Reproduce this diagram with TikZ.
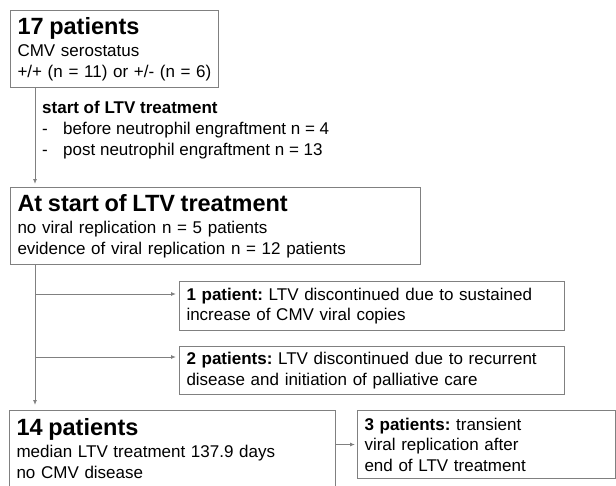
\documentclass[tikz,border=0pt]{standalone}
\usepackage{fontspec}
\setmainfont{Liberation Sans}
\usetikzlibrary{arrows.meta}

\newcommand{\ttl}{\fontsize{23.5}{24}\selectfont\bfseries}
\frenchspacing

\begin{document}
\begin{tikzpicture}[x=1pt, y=-1pt,
    box/.style={draw=gray, line width=1pt, anchor=north west, align=left,
        inner xsep=7pt, inner ysep=2pt, font=\fontsize{17}{20.5}\selectfont},
    arr/.style={draw=gray, line width=0.9pt, -{Latex[length=5pt,width=4pt]}}]
\useasboundingbox (0,0) rectangle (616,485);

% Boxes down the left
\node[box, text width=194pt, minimum height=77pt] (pat17) at (10,10) {
    {\ttl 17 patients}\\[1.5pt]
    CMV serostatus\\
    +/+ (n = 11) or +/- (n = 6)
};
\node[box, text width=396pt, minimum height=77pt] (atstart) at (10,187) {
    {\ttl At start of LTV treatment}\\[1.5pt]
    no viral replication n = 5 patients\\
    evidence of viral replication n = 12 patients
};
\node[box, text width=312pt, minimum height=76pt] (pat14) at (9,410) {
    {\ttl 14 patients}\\[1.5pt]
    median LTV treatment 137.9 days\\
    no CMV disease
};

% Note between first two boxes
\node[anchor=north west, align=left, inner sep=0pt, font=\fontsize{17}{21}\selectfont]
    (startltv) at (42,101) {
    \textbf{start of LTV treatment}\\
    \makebox[21pt][l]{-}before neutrophil engraftment n = 4\\
    \makebox[21pt][l]{-}post neutrophil engraftment n = 13
};

% Boxes on the right
\node[box, text width=371pt, minimum height=49pt] (pat1) at (179,281) {
    \textbf{1 patient:} LTV discontinued due to sustained\\
    increase of CMV viral copies
};
\node[box, text width=371pt, minimum height=48pt] (pat2) at (179,346) {
    \textbf{2 patients:} LTV discontinued due to recurrent\\
    disease and initiation of palliative care
};
\node[box, text width=244pt, minimum height=68pt] (pat3) at (357,410) {
    \textbf{3 patients:} transient\\
    viral replication after\\
    end of LTV treatment
};

% Spine
\coordinate (sp) at (35,0);
\coordinate (br1) at (35,294);
\coordinate (br2) at (35,357);
\draw[arr, shorten >=3pt] (pat17.south -| sp) -- (atstart.north -| sp);
\draw[arr, shorten >=5pt] (atstart.south -| sp) -- (pat14.north -| sp);

% Branches
\draw[arr, shorten >=3pt] (br1) -- (br1 -| pat1.west);
\draw[arr, shorten >=3pt] (br2) -- (br2 -| pat2.west);
\draw[arr, shorten >=2pt] (pat14.east |- pat3.west) -- (pat3.west);
\end{tikzpicture}
\end{document}
